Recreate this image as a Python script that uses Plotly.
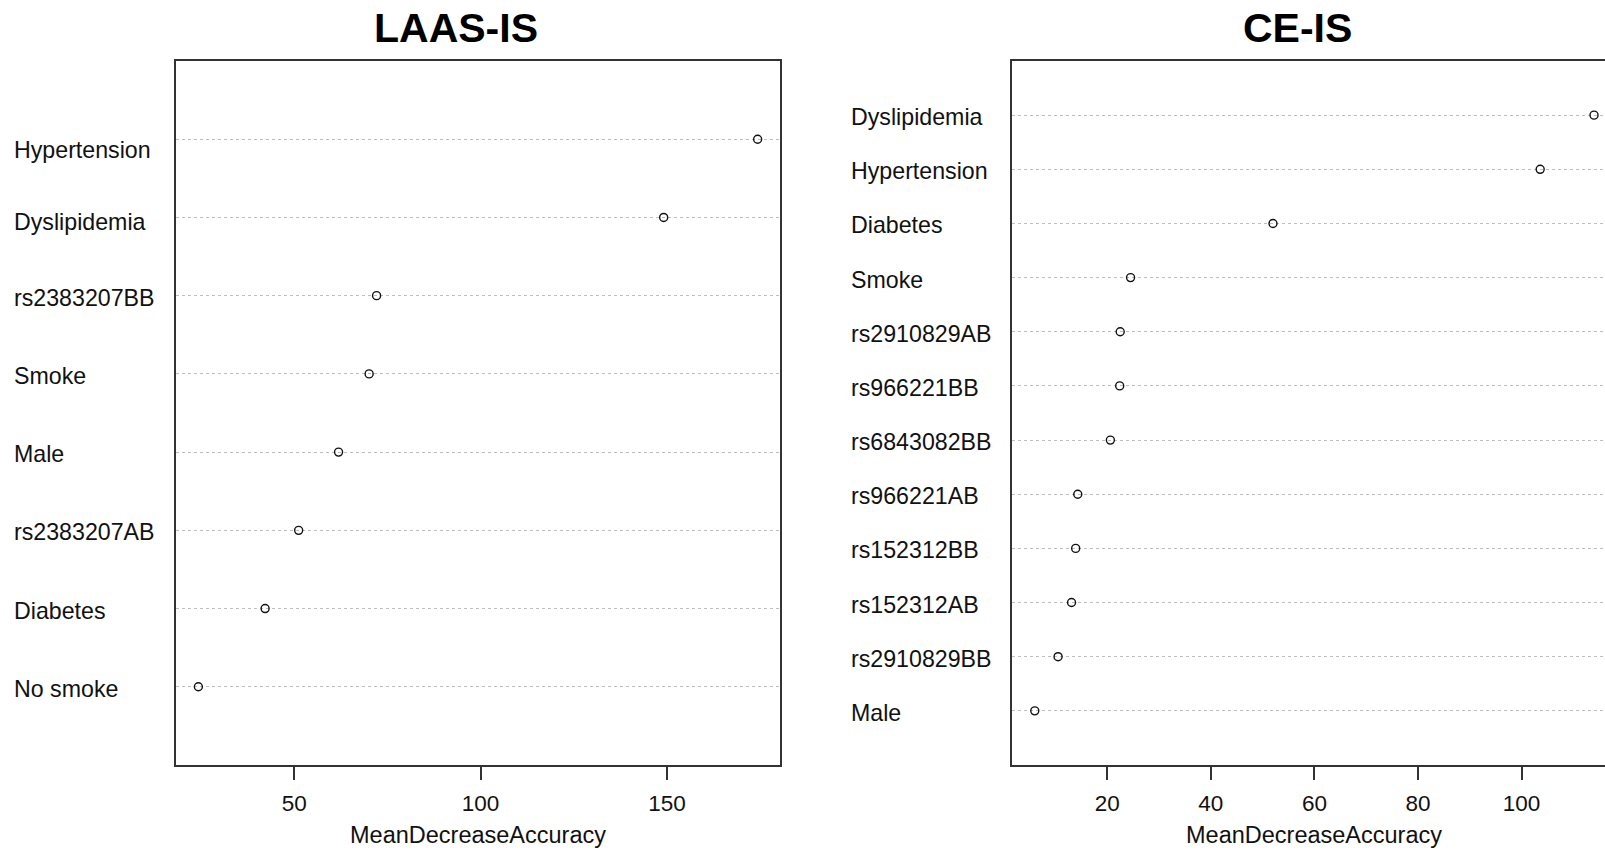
import plotly.graph_objects as go

# ---------------- data (top-to-bottom order as displayed) ----------------
laas_vars = ["Hypertension", "Dyslipidemia", "rs2383207BB", "Smoke",
             "Male", "rs2383207AB", "Diabetes", "No smoke"]
laas_mda = [174.3, 149.1, 72.1, 70.1, 61.9, 51.2, 42.2, 24.3]

ce_vars = ["Dyslipidemia", "Hypertension", "Diabetes", "Smoke",
           "rs2910829AB", "rs966221BB", "rs6843082BB", "rs966221AB",
           "rs152312BB", "rs152312AB", "rs2910829BB", "Male"]
ce_mda = [114.0, 103.6, 52.0, 24.5, 22.5, 22.4, 20.6, 14.3,
          13.9, 13.1, 10.5, 6.0]

laas_ticks = [50, 100, 150]
ce_ticks = [20, 40, 60, 80, 100]

titles = ["LAAS-IS", "CE-IS"]
x_title = "MeanDecreaseAccuracy"

# ---------------- layout geometry ----------------
W, H = 1605, 851
M_T, M_B = 61, 86
FONT = "Liberation Sans, Arial, sans-serif"
BOX = "#333333"
GRID = "#bebebe"
INK = "#111111"


def px_x(px):
    return px / W


def px_y(py):
    return (H - M_B - py) / (H - M_T - M_B)


def r_range(vals):
    lo, hi = min(vals), max(vals)
    pad = 0.04 * (hi - lo)
    return lo - pad, hi + pad


left_dom = [176 / W, 780 / W]
right_dom = [1012.4 / W, 1.0]
box_w = 780 - 176

l_lo, l_hi = r_range(laas_mda)
c_lo, c_hi = r_range(ce_mda)
# the right panel is cropped by the picture edge
c_hi_vis = c_lo + (c_hi - c_lo) * (W - 1012.4) / box_w

fig = go.Figure()
marker = dict(symbol="circle-open", size=8, color=INK, line=dict(width=1.4, color=INK))
fig.add_trace(go.Scatter(x=laas_mda, y=laas_vars, mode="markers", marker=marker,
                         xaxis="x", yaxis="y", showlegend=False, hoverinfo="x+y",
                         cliponaxis=False))
fig.add_trace(go.Scatter(x=ce_mda, y=ce_vars, mode="markers", marker=marker,
                         xaxis="x2", yaxis="y2", showlegend=False, hoverinfo="x+y",
                         cliponaxis=False))

xcommon = dict(showgrid=False, zeroline=False, showline=True, mirror=True,
               linecolor=BOX, linewidth=1.5, ticks="outside", ticklen=13,
               tickwidth=1.5, tickcolor=BOX, ticklabelstandoff=4,
               tickfont=dict(family=FONT, size=22.5, color=INK))
ycommon = dict(showgrid=True, gridcolor=GRID, griddash="dot", gridwidth=1,
               zeroline=False, showticklabels=False, ticks="",
               showline=True, linecolor=BOX, linewidth=1.5, type="category")

fig.update_layout(
    width=W, height=H,
    margin=dict(l=0, r=0, t=M_T, b=M_B),
    paper_bgcolor="white", plot_bgcolor="white",
    xaxis=dict(domain=left_dom, range=[l_lo, l_hi], tickvals=laas_ticks,
               anchor="y", **xcommon),
    yaxis=dict(domain=[0, 1], anchor="x", mirror=True,
               categoryorder="array", categoryarray=laas_vars[::-1],
               range=[-1, len(laas_vars)], **ycommon),
    xaxis2=dict(domain=right_dom, range=[c_lo, c_hi_vis], tickvals=ce_ticks,
                anchor="y2", **xcommon),
    yaxis2=dict(domain=[0, 1], anchor="x2", mirror=False,
                categoryorder="array", categoryarray=ce_vars[::-1],
                range=[-1, len(ce_vars)], **ycommon),
)

ann = []
# panel titles
for txt, cx in zip(titles, [456, 1297.5]):
    ann.append(dict(text="<b>%s</b>" % txt, xref="paper", yref="paper",
                    x=px_x(cx), y=px_y(28), xanchor="center", yanchor="middle",
                    showarrow=False, font=dict(family=FONT, size=41, color="black")))
# axis titles
ann.append(dict(text=x_title, xref="paper", yref="paper",
                x=px_x(478), y=px_y(835), xanchor="center", yanchor="middle",
                showarrow=False, font=dict(family=FONT, size=23.5, color=INK)))
ann.append(dict(text=x_title, xref="x2", yref="paper",
                x=(c_lo + c_hi) / 2, y=px_y(835), xanchor="center", yanchor="middle",
                showarrow=False, font=dict(family=FONT, size=23.5, color=INK)))
# row labels (left-aligned, as in R dotchart)
nudge_left = {"Hypertension": -9, "Dyslipidemia": -3}
for v in laas_vars:
    ann.append(dict(text=v, xref="paper", yref="y", x=px_x(12), y=v,
                    xanchor="left", yanchor="middle", yshift=-2 + nudge_left.get(v, 0),
                    showarrow=False, font=dict(family=FONT, size=23.2, color=INK)))
for v in ce_vars:
    ann.append(dict(text=v, xref="paper", yref="y2", x=px_x(849), y=v,
                    xanchor="left", yanchor="middle", yshift=-2,
                    showarrow=False, font=dict(family=FONT, size=23.2, color=INK)))
fig.update_layout(annotations=ann)

fig.write_html("out.html",
               config={"displayModeBar": False},
               post_script="document.body.style.margin='0';"
                           "document.body.style.overflow='hidden';")
